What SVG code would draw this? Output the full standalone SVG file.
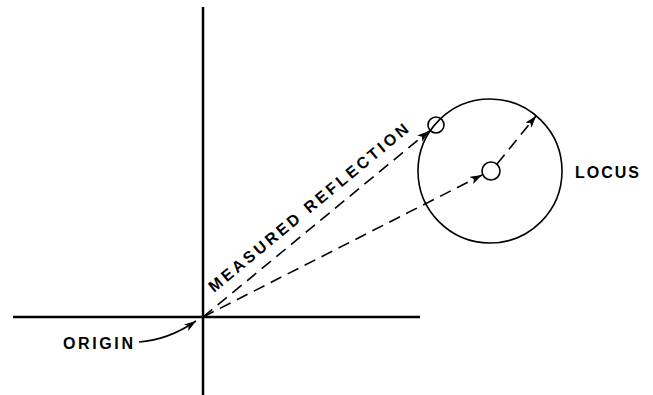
<svg xmlns="http://www.w3.org/2000/svg" width="653" height="395" viewBox="0 0 653 395">
<style>
.ax{stroke:#000;stroke-width:2.5;fill:none}
.ln{stroke:#000;stroke-width:1.6;fill:none}
.ds{stroke:#000;stroke-width:1.6;fill:none;stroke-dasharray:12 7}
.t{font-family:"Liberation Sans",Arial,sans-serif;font-weight:bold;font-size:16px;fill:#000}
</style>
<defs>
<marker id="ah" viewBox="0 0 12 8" refX="12" refY="4" markerWidth="12" markerHeight="8" markerUnits="userSpaceOnUse" orient="auto">
<path d="M0,0 L12,4 L0,8 L3,4 Z" fill="#000"/>
</marker>
</defs>
<rect width="653" height="395" fill="#fff"/>
<g id="axes">
<line class="ax" x1="203" y1="7" x2="203" y2="395"/>
<line class="ax" x1="13" y1="317" x2="420" y2="317"/>
</g>
<g id="locus">
<circle class="ln" cx="490" cy="171" r="72"/>
<text class="t" x="575" y="178" textLength="64" lengthAdjust="spacing">LOCUS</text>
</g>
<g id="measured-point">
<circle class="ln" cx="436" cy="125" r="8"/>
</g>
<g id="center-point">
<circle class="ln" cx="491" cy="171" r="9"/>
</g>
<g id="origin-label">
<text class="t" x="63" y="349" textLength="70" lengthAdjust="spacing">ORIGIN</text>
</g>
<g id="measured-label">
<text class="t" transform="translate(214,293) rotate(-39.6)" textLength="254" lengthAdjust="spacing">MEASURED REFLECTION</text>
</g>
<g id="connectors">
<line class="ds" x1="203" y1="317" x2="429" y2="131" marker-end="url(#ah)"/>
<line class="ds" x1="203" y1="317" x2="482" y2="175" marker-end="url(#ah)"/>
<line class="ds" x1="497" y1="164" x2="536" y2="116" marker-end="url(#ah)"/>
<path class="ln" d="M139,342 Q168,340 196,321" marker-end="url(#ah)"/>
</g>
</svg>
